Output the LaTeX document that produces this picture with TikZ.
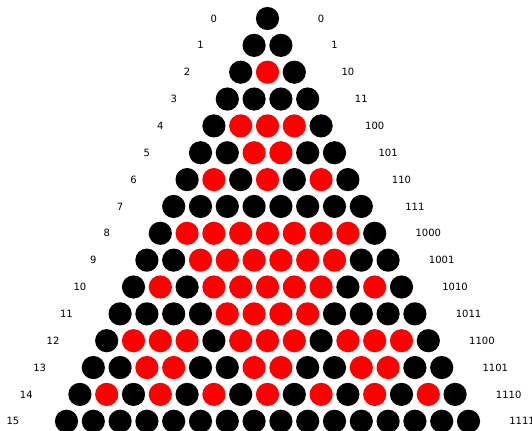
\documentclass[tikz,border=0pt]{standalone}
\usepackage{fontspec}
\setmainfont{DejaVu Sans}
\usetikzlibrary{positioning}

\tikzset{
  dot/.style={circle, inner sep=0pt, minimum size=17.4pt},
  rowlabel/.style={inner sep=0pt, font=\fontsize{7.5}{9}\selectfont}
}

\begin{document}
\begin{tikzpicture}[x=0.75pt, y=-0.75pt]
  \useasboundingbox (0,0) rectangle (532,431);
  % one row per n: left the row number, right the same number in binary
  \foreach \n/\b in {0/0,1/1,2/10,3/11,4/100,5/101,6/110,7/111,8/1000,9/1001,10/1010,11/1011,12/1100,13/1101,14/1110,15/1111} {
    \node[rowlabel] (l\n) at ({267.5+26.8*(-2-\n/2)}, {18.5+26.85*\n}) {\n};
    \node[rowlabel] (r\n) at ({267.5+26.8*(\n/2+2)}, {18.5+26.85*\n}) {\b};
    \foreach \k in {0,...,\n} {
      % C(n,k) is odd iff no bit of k is set where n has a 0
      \pgfmathtruncatemacro\ev{(mod(\k,2)>mod(\n,2)) + (mod(floor(\k/2),2)>mod(floor(\n/2),2)) + (mod(floor(\k/4),2)>mod(floor(\n/4),2)) + (mod(floor(\k/8),2)>mod(floor(\n/8),2))}
      \ifnum\ev=0 \def\col{black}\else\def\col{red}\fi
      \node[dot, fill=\col] (c\n-\k) at ({267.5+26.8*(\k-\n/2)}, {18.5+26.85*\n}) {};
    }
  }
\end{tikzpicture}
\end{document}
